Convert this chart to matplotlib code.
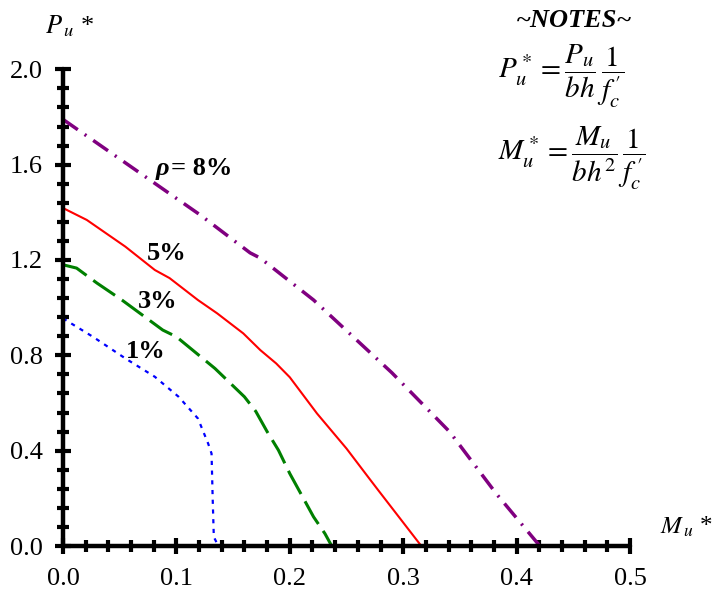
import numpy as np
import matplotlib
matplotlib.use("Agg")
import matplotlib.pyplot as plt
from matplotlib.ticker import MultipleLocator, FormatStrFormatter

# Interaction curves (Mu*, Pu*)
rho_labels = ["1%", "3%", "5%", "8%"]

mu_1 = [0.0, 0.027, 0.055, 0.081, 0.102, 0.119, 0.128, 0.131, 0.132, 0.133, 0.137]
pu_1 = [0.955, 0.876, 0.787, 0.710, 0.626, 0.535, 0.43, 0.388, 0.2, 0.038, 0.0]

mu_3 = [0.0, 0.012, 0.030, 0.052, 0.088, 0.100, 0.134, 0.160, 0.170, 0.180,
        0.190, 0.200, 0.221, 0.231, 0.237]
pu_3 = [1.18, 1.166, 1.103, 1.032, 0.906, 0.878, 0.745, 0.626, 0.565, 0.48,
        0.402, 0.304, 0.122, 0.052, 0.0]

mu_5 = [0.0, 0.021, 0.055, 0.081, 0.094, 0.119, 0.136, 0.159, 0.174, 0.188,
        0.200, 0.224, 0.250, 0.269, 0.278, 0.316]
pu_5 = [1.418, 1.368, 1.256, 1.158, 1.124, 1.032, 0.976, 0.892, 0.822, 0.766,
        0.708, 0.556, 0.409, 0.290, 0.234, 0.0]

mu_8 = [0.0, 0.121, 0.165, 0.174, 0.221, 0.259, 0.290, 0.341, 0.382, 0.420, 0.429]
pu_8 = [1.79, 1.389, 1.23, 1.208, 1.032, 0.864, 0.727, 0.479, 0.220, 0.003, 0.0]


def main():
    plt.rcParams['font.family'] = ['Liberation Serif', 'DejaVu Serif']
    plt.rcParams['mathtext.fontset'] = 'stix'
    plt.rcParams['lines.scale_dashes'] = False

    fig = plt.figure(figsize=(7.19, 5.94), dpi=100)
    ax = fig.add_axes([0.0876, 0.0808, 0.7886, 0.8025])

    ax.plot(mu_8, pu_8, color='#800080', lw=2.5, dashes=(13, 6, 1.5, 6), clip_on=False)
    ax.plot(mu_5, pu_5, color='#ff0000', lw=1.5, clip_on=False)
    ax.plot(mu_3, pu_3, color='#008000', lw=2.2, dashes=(19, 6), clip_on=False)
    ax.plot(mu_1, pu_1, color='#0000ff', lw=1.6, dashes=(3, 4), clip_on=False)

    # curve labels
    ax.text(0.0935, 1.557, "ρ", fontsize=19, fontweight='bold', style='italic',
            ha='right', va='baseline')
    ax.text(0.095, 1.557, "= " + rho_labels[3], fontsize=19, fontweight='bold',
            ha='left', va='baseline')
    ax.text(0.0735, 1.200, rho_labels[2], fontsize=19, fontweight='bold', va='baseline')
    ax.text(0.066, 0.997, rho_labels[1], fontsize=19, fontweight='bold', va='baseline')
    ax.text(0.0553, 0.787, rho_labels[0], fontsize=19, fontweight='bold', va='baseline')

    ax.set_xlim(0, 0.5)
    ax.set_ylim(0, 2.0)
    ax.xaxis.set_major_locator(MultipleLocator(0.1))
    ax.xaxis.set_minor_locator(MultipleLocator(0.02))
    ax.yaxis.set_major_locator(MultipleLocator(0.4))
    ax.yaxis.set_minor_locator(MultipleLocator(0.08))
    ax.xaxis.set_major_formatter(FormatStrFormatter('%.1f'))
    ax.yaxis.set_major_formatter(FormatStrFormatter('%.1f'))

    for side in ['top', 'right']:
        ax.spines[side].set_visible(False)
    for side in ['left', 'bottom']:
        ax.spines[side].set_linewidth(3.2)
        ax.spines[side].set_capstyle('round')

    ax.tick_params(which='major', direction='inout', length=11, width=3, labelsize=19)
    ax.tick_params(which='minor', direction='inout', length=8, width=3)
    ax.tick_params(axis='x', which='major', pad=10)
    ax.tick_params(axis='y', which='major', pad=9)

    # axis titles
    fig.text(45 / 719, 1 - 26 / 594, r"$P_{\,u}$ *", fontsize=19, va='center')
    fig.text(660 / 719, 1 - 527 / 594, r"$M_{\,u}$ *", fontsize=18, va='center')

    # notes
    fig.text(0.799, 0.955, "~NOTES~", fontsize=19, fontweight='bold', style='italic',
             ha='center', va='baseline')
    fig.text(0.6926, 0.871, r"$P_u^* = \dfrac{P_u}{bh}\,\dfrac{1}{f_c^{\,\prime}}$",
             fontsize=21, ha='left', va='center')
    fig.text(0.6926, 0.734, r"$M_u^* = \dfrac{M_u}{bh^2}\,\dfrac{1}{f_c^{\,\prime}}$",
             fontsize=21, ha='left', va='center')

    fig.savefig('out.png', dpi=100)


if __name__ == '__main__':
    main()
